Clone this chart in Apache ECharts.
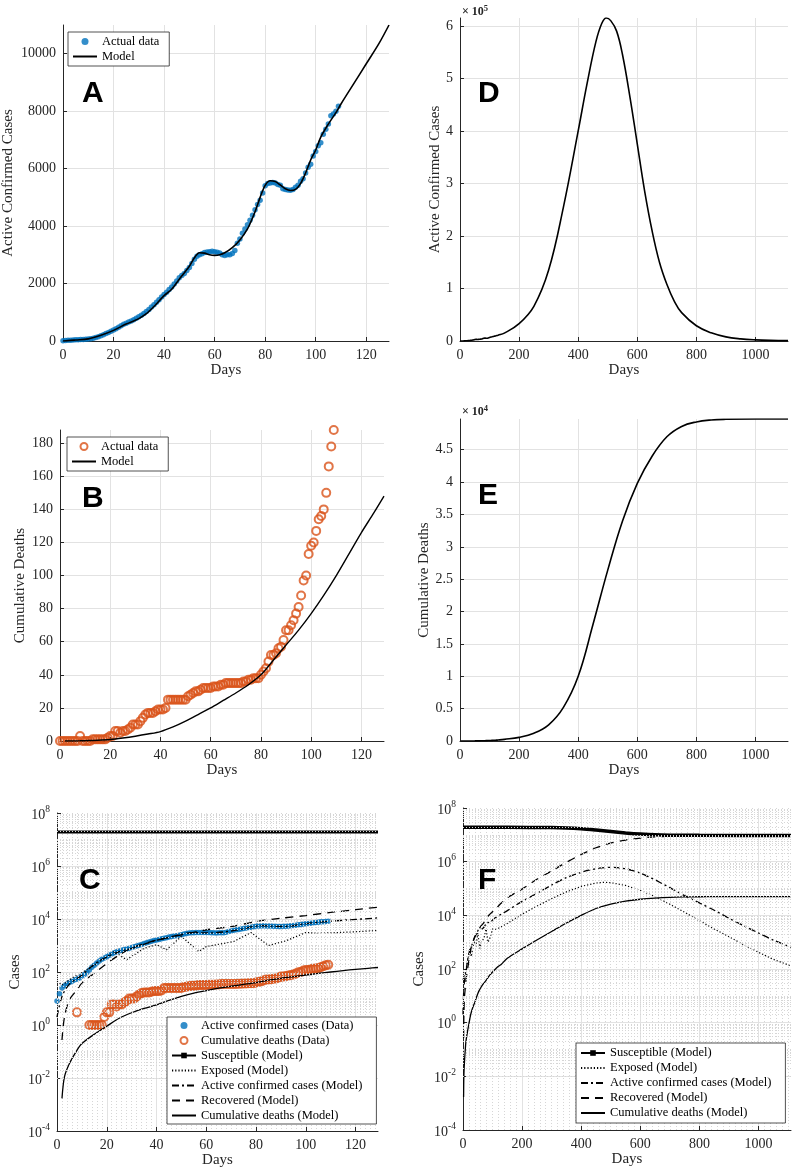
<!DOCTYPE html>
<html><head><meta charset="utf-8">
<script src="https://cdn.jsdelivr.net/npm/echarts@6.0.0/dist/echarts.min.js"></script>
<style>html,body{margin:0;padding:0;background:#fff}#c{width:793px;height:1170px}</style>
</head><body><div id="c"></div>
<script>
// ---------- DATA ----------
// Observed active confirmed cases, days 0..109
const activeDataVals = [8, 15, 25, 30, 35, 40, 45, 50, 55, 60,
  70, 80, 95, 120, 150, 180, 220, 260, 300, 340,
  380, 430, 480, 530, 580, 620, 660, 700, 740, 790,
  840, 900, 960, 1030, 1100, 1180, 1260, 1350, 1440, 1530,
  1620, 1700, 1790, 1880, 1980, 2090, 2200, 2280, 2350, 2450,
  2560, 2700, 2850, 2950, 3000, 3040, 3080, 3100, 3110, 3120,
  3110, 3090, 3060, 3000, 2980, 3000, 3000, 3050, 3150, 3400,
  3550, 3750, 3900, 4050, 4200, 4380, 4570, 4750, 4900, 5150,
  5400, 5480, 5500, 5520, 5500, 5450, 5420, 5300, 5270, 5260,
  5250, 5270, 5350, 5420, 5560, 5650, 5850, 6050, 6150, 6440,
  6600, 6800, 6900, 7200, 7370, 7550, 7840, 7900, 8000, 8170];
// Observed cumulative deaths, days 0..109
const deathsDataVals = [0, 0, 0, 0, 0, 0, 0, 0, 3, 0,
  0, 0, 0, 1, 1, 1, 1, 1, 1, 2,
  3, 3, 6, 6, 5, 6, 6, 7, 8, 10,
  10, 10, 12, 14, 16, 17, 17, 17, 18, 19,
  19, 19, 20, 25, 25, 25, 25, 25, 25, 25,
  25, 27, 28, 29, 30, 30, 31, 32, 32, 32,
  32, 33, 33, 33, 34, 34, 35, 35, 35, 35,
  35, 35, 35, 36, 36, 37, 37, 38, 38, 38,
  40, 42, 44, 48, 52, 52, 53, 56, 57, 61,
  67, 67, 70, 73, 77, 81, 88, 97, 100, 113,
  118, 120, 127, 134, 136, 140, 150, 166, 178, 188];

// Model, short range (days 0..129)
const activeModelDays = [0, 2, 5, 10, 15, 20, 25, 28, 30, 33, 36, 40, 43, 46, 50, 52, 54, 56, 58, 60, 62, 64, 67, 70, 73, 76, 78, 80, 82, 84, 86, 88, 90, 92, 94, 96, 98, 100, 102, 105, 108, 110, 115, 120, 125, 129];
const activeModelVals = [2, 12, 35, 75, 200, 370, 590, 700, 780, 950, 1200, 1580, 1800, 2150, 2600, 2900, 3070, 3060, 3000, 2980, 3000, 3070, 3250, 3520, 3900, 4500, 5000, 5420, 5580, 5550, 5430, 5300, 5240, 5280, 5480, 5850, 6300, 6650, 7100, 7550, 7950, 8250, 8950, 9650, 10350, 11000];
const exposedDays = [0, 2, 6, 10, 15, 20, 23, 28, 35, 40, 44, 50, 57, 60, 71, 78, 85, 92, 100, 105, 110, 120, 129];
const exposedVals = [44, 32, 59, 95, 180, 380, 590, 290, 790, 1070, 690, 2200, 590, 910, 1410, 3090, 1000, 1500, 3090, 2900, 3000, 3300, 3700];
const recoveredDays = [2, 3, 5, 8, 10, 15, 20, 25, 30, 40, 50, 60, 70, 80, 90, 100, 110, 120, 129];
const recoveredVals = [0.27, 2, 9, 21, 38, 90, 210, 440, 800, 1600, 2500, 3900, 5200, 8000, 10700, 13500, 17700, 22400, 28000];
const deathsModelDays = [2, 3, 5, 8, 10, 15, 20, 25, 30, 35, 40, 45, 50, 55, 60, 65, 70, 75, 80, 85, 90, 95, 100, 105, 110, 115, 120, 125, 129];
const deathsModelVals = [0.0017, 0.011, 0.035, 0.11, 0.2, 0.45, 0.9, 1.8, 2.9, 4.2, 5.7, 8.5, 12, 16, 20, 24.5, 29, 34, 40, 49, 58, 67, 77, 88, 100, 113, 126, 138, 148];
const susceptibleDays = [0, 129];
const susceptibleVals = [1.9e7, 1.9e7];

// Model, long range (days 150..1110)
const activeLongDays = [150, 200, 250, 300, 350, 400, 430, 460, 480, 495, 510, 530, 550, 575, 600, 625, 650, 675, 700, 725, 750, 800, 850, 900, 950, 1000, 1050, 1110];
const activeLongVals = [15000, 33000, 66000, 135000, 255000, 400000, 490000, 570000, 605000, 615000, 610000, 590000, 545000, 465000, 375000, 285000, 210000, 150000, 108000, 76000, 54000, 29000, 15500, 7800, 4100, 2200, 1200, 650];
const exposedLongDays = [150, 200, 250, 300, 350, 400, 450, 475, 500, 550, 600, 650, 700, 750, 800, 850, 900, 950, 1000, 1050, 1110];
const exposedLongVals = [5000, 11000, 22000, 42000, 75000, 120000, 160000, 170000, 165000, 130000, 85000, 50000, 26000, 13000, 6300, 3100, 1600, 800, 420, 230, 130];
const recoveredLongDays = [150, 200, 250, 300, 350, 400, 450, 500, 550, 600, 650, 700, 750, 800, 900, 1110];
const recoveredLongVals = [45000, 95000, 220000, 450000, 950000, 1850000, 3300000, 4900000, 6400000, 7600000, 8400000, 8900000, 9200000, 9330000, 9420000, 9450000];
const deathsLongDays = [150, 200, 250, 300, 350, 400, 450, 500, 550, 600, 650, 700, 750, 800, 850, 900, 1000, 1110];
const deathsLongVals = [250, 560, 1200, 2500, 5200, 10000, 18000, 26400, 34000, 39800, 44000, 47000, 48600, 49300, 49600, 49700, 49750, 49750];
const susceptibleLongDays = [150, 300, 350, 400, 450, 500, 550, 600, 650, 700, 800, 1110];
const susceptibleLongVals = [1.9e7, 1.86e7, 1.8e7, 1.67e7, 1.5e7, 1.33e7, 1.18e7, 1.07e7, 1.0e7, 9.75e6, 9.55e6, 9.5e6];

// Axis ranges / ticks
const shortDaysMax = 129, longDaysMax = 1110;
const shortDaysTick = 20, longDaysTick = 200;
const aMax = 11000, aTick = 2000;
const bMax = 188, bTick = 20;
const dMax = 615000, dTick = 100000;
const eMax = 49750, eTick = 5000;
const logMin = 1e-4, logMax = 1e8, logTickDecades = 2;

// ---------- HELPERS ----------
const SERIF = 'Liberation Serif', SANS = 'Liberation Sans';
const INK = '#262626', GRID = '#e2e2e2', MINOR = '#d6d6d6';
const BLUE = '#0072BD', ORANGE = '#D95319';
const pairs = (days, vals) => days.map((d, i) => [d, vals[i]]);
const dataDays = activeDataVals.map((_, i) => i);
const plain = v => String(v);

function xAx(grid, max, interval, minor) {
  return {
    gridIndex: grid, type: 'value', min: 0, max: max, interval: interval,
    name: 'Days', nameLocation: 'middle', nameGap: 22,
    nameTextStyle: {fontFamily: SERIF, fontSize: 15, color: INK},
    axisLine: {show: true, onZero: false, lineStyle: {color: INK, width: 1}},
    axisTick: {show: true, inside: true, length: 4, lineStyle: {color: INK}},
    axisLabel: {margin: 7, fontFamily: SERIF, fontSize: 14, color: INK, showMaxLabel: false, formatter: plain},
    splitLine: {show: true, showMinLine: false, showMaxLine: false, lineStyle: {color: GRID, width: 1}},
    minorTick: {show: false, splitNumber: 10},
    minorSplitLine: {show: !!minor, lineStyle: {color: MINOR, type: [1, 2], width: 1}}
  };
}
function yAx(grid, name, gap, max, interval, fmt) {
  return {
    gridIndex: grid, type: 'value', min: 0, max: max, interval: interval,
    name: name, nameLocation: 'middle', nameGap: gap,
    nameTextStyle: {fontFamily: SERIF, fontSize: 15, color: INK},
    axisLine: {show: true, onZero: false, lineStyle: {color: INK, width: 1}},
    axisTick: {show: true, inside: true, length: 4, lineStyle: {color: INK}},
    axisLabel: {margin: 7, fontFamily: SERIF, fontSize: 14, color: INK, showMaxLabel: false, formatter: fmt || plain},
    splitLine: {show: true, showMinLine: false, showMaxLine: false, lineStyle: {color: GRID, width: 1}}
  };
}
function yLog(grid, gap) {
  return {
    gridIndex: grid, type: 'log', logBase: 10, min: logMin, max: logMax, interval: logTickDecades,
    name: 'Cases', nameLocation: 'middle', nameGap: gap,
    nameTextStyle: {fontFamily: SERIF, fontSize: 15, color: INK},
    axisLine: {show: true, onZero: false, lineStyle: {color: INK, width: 1}},
    axisTick: {show: true, inside: true, length: 4, lineStyle: {color: INK}},
    axisLabel: {margin: 7, color: INK,
      formatter: v => '{b|10}{e|' + Math.round(Math.log10(v)) + '}',
      rich: {b: {fontFamily: SERIF, fontSize: 14, color: INK, lineHeight: 18, verticalAlign: 'bottom'},
             e: {fontFamily: SERIF, fontSize: 9.5, color: INK, lineHeight: 10, verticalAlign: 'top'}}},
    splitLine: {show: true, showMinLine: false, showMaxLine: false, lineStyle: {color: GRID, width: 1}}
  };
}
function minorLogLines() {
  const out = [];
  for (let k = Math.log10(logMin); k < Math.log10(logMax); k++) {
    for (let n = 1; n <= 9; n++) {
      if (n === 1 && k % logTickDecades === 0) continue;
      out.push({yAxis: n * Math.pow(10, k)});
    }
  }
  return out;
}
function gridSeries(idx) {
  return {name: 'grid' + idx, type: 'line', xAxisIndex: idx, yAxisIndex: idx, data: [], z: 1, silent: true,
    markLine: {silent: true, symbol: ['none', 'none'], label: {show: false}, animation: false,
      lineStyle: {color: MINOR, type: [1, 2], width: 1}, emphasis: {disabled: true}, data: minorLogLines()}};
}
function lineS(name, idx, data, style, extra) {
  return Object.assign({name: name, type: 'line', xAxisIndex: idx, yAxisIndex: idx, data: data,
    symbol: 'none', lineStyle: Object.assign({color: '#000', width: 1.4}, style), itemStyle: {color: '#000'},
    z: 3}, extra || {});
}
const blueScatter = (name, idx, data) => ({name: name, type: 'scatter', xAxisIndex: idx, yAxisIndex: idx, data: data,
  symbol: 'circle', symbolSize: 5.5, itemStyle: {color: BLUE}, z: 2});
const orangeScatter = (name, idx, data) => ({name: name, type: 'scatter', xAxisIndex: idx, yAxisIndex: idx, data: data,
  symbol: 'circle', symbolSize: 8, itemStyle: {color: 'rgba(0,0,0,0)', borderColor: ORANGE, borderWidth: 2}, z: 2});

const DOT = [1.2, 2], DASHDOT = [7, 3, 2, 3], DASH = [8, 6];
const noSym = {opacity: 0};

function legend(left, top, items, padding) {
  return {left: left, top: top, orient: 'vertical', selectedMode: false, z: 50, zlevel: 1,
    itemWidth: 24, itemHeight: 7, itemGap: 0, padding: padding,
    borderColor: INK, borderWidth: 0.8, backgroundColor: '#ffffff',
    textStyle: {fontFamily: SERIF, fontSize: 12.5, color: '#000', lineHeight: 15},
    formatter: n => n.slice(2), data: items};
}
const letter = (t, left, top) => ({text: t, left: left, top: top, padding: 0, z: 60, zlevel: 1,
  textStyle: {fontFamily: SANS, fontWeight: 'bold', fontSize: 30, color: '#000'}});
const expo = (e, left, top) => ({text: '{b|\u00d7 10}{e|' + e + '}', left: left, top: top, padding: 0,
  textStyle: {rich: {b: {fontFamily: SERIF, fontSize: 12, color: INK, lineHeight: 14, verticalAlign: 'bottom'},
                     e: {fontFamily: SERIF, fontSize: 8.5, color: INK, lineHeight: 9, verticalAlign: 'top'}}}});

const deathsLogData = pairs(dataDays, deathsDataVals.map(v => v > 0 ? v : null));

const option = {
  animation: false,
  backgroundColor: '#fff',
  textStyle: {fontFamily: SERIF},
  title: [letter('A', 82, 79), letter('B', 82, 484), letter('C', 79, 866),
          letter('D', 478, 79), letter('E', 478, 481), letter('F', 478, 866),
          expo(5, 462, 4), expo(4, 462, 404)],
  grid: [
    {left: 61, top: 25, width: 328, height: 316},
    {left: 60, top: 430, width: 324, height: 311},
    {left: 57, top: 813, width: 321, height: 318},
    {left: 460, top: 18, width: 328, height: 323},
    {left: 460, top: 419, width: 328, height: 322},
    {left: 463, top: 808, width: 328, height: 322}
  ],
  xAxis: [xAx(0, shortDaysMax, shortDaysTick), xAx(1, shortDaysMax, shortDaysTick), xAx(2, shortDaysMax, shortDaysTick, true),
          xAx(3, longDaysMax, longDaysTick), xAx(4, longDaysMax, longDaysTick), xAx(5, longDaysMax, longDaysTick, true)],
  yAxis: [yAx(0, 'Active Confirmed Cases', 47, aMax, aTick),
          yAx(1, 'Cumulative Deaths', 32, bMax, bTick),
          yLog(2, 34),
          yAx(3, 'Active Confirmed Cases', 17, dMax, dTick, v => String(v / 1e5)),
          yAx(4, 'Cumulative Deaths', 27, eMax, eTick, v => String(v / 1e4)),
          yLog(5, 36)],
  legend: [
    legend(68, 32, [{name: 'A:Actual data'}, {name: 'A:Model', itemStyle: noSym}], [2, 10, 2, 4]),
    legend(67, 437, [{name: 'B:Actual data'}, {name: 'B:Model', itemStyle: noSym}], [2, 10, 2, 4]),
    legend(167, 1017, [{name: 'C:Active confirmed cases (Data)'}, {name: 'C:Cumulative deaths (Data)'},
      {name: 'C:Susceptible (Model)'}, {name: 'C:Exposed (Model)', itemStyle: noSym},
      {name: 'C:Active confirmed cases (Model)', itemStyle: noSym}, {name: 'C:Recovered (Model)', itemStyle: noSym},
      {name: 'C:Cumulative deaths (Model)', itemStyle: noSym}], [1, 14, 1, 4]),
    legend(576, 1043, [{name: 'F:Susceptible (Model)'}, {name: 'F:Exposed (Model)', itemStyle: noSym},
      {name: 'F:Active confirmed cases (Model)', itemStyle: noSym}, {name: 'F:Recovered (Model)', itemStyle: noSym},
      {name: 'F:Cumulative deaths (Model)', itemStyle: noSym}], [2.5, 14, 2.5, 4])
  ],
  series: [
    // A
    blueScatter('A:Actual data', 0, pairs(dataDays, activeDataVals)),
    lineS('A:Model', 0, pairs(activeModelDays, activeModelVals), {width: 1.6}, {smooth: 0.3}),
    // B
    orangeScatter('B:Actual data', 1, pairs(dataDays, deathsDataVals)),
    lineS('B:Model', 1, pairs(deathsModelDays, deathsModelVals), {width: 1.4}, {smooth: 0.3}),
    // C
    gridSeries(2),
    blueScatter('C:Active confirmed cases (Data)', 2, pairs(dataDays, activeDataVals)),
    orangeScatter('C:Cumulative deaths (Data)', 2, deathsLogData),
    lineS('C:Susceptible (Model)', 2, pairs(susceptibleDays, susceptibleVals), {width: 3},
      {symbol: 'rect', symbolSize: 4, showSymbol: false}),
    lineS('C:Exposed (Model)', 2, pairs(exposedDays, exposedVals), {type: DOT, width: 1.2}),
    lineS('C:Active confirmed cases (Model)', 2, pairs(activeModelDays, activeModelVals), {type: DASHDOT, width: 1.3}, {smooth: 0.3}),
    lineS('C:Recovered (Model)', 2, pairs(recoveredDays, recoveredVals), {type: DASH, width: 1.3}, {smooth: 0.3}),
    lineS('C:Cumulative deaths (Model)', 2, pairs(deathsModelDays, deathsModelVals), {width: 1.3}, {smooth: 0.3}),
    // D
    lineS('D:Model', 3, pairs(activeModelDays.concat(activeLongDays), activeModelVals.concat(activeLongVals)), {width: 1.6}, {smooth: 0.4}),
    // E
    lineS('E:Model', 4, pairs(deathsModelDays.concat(deathsLongDays), deathsModelVals.concat(deathsLongVals)), {width: 1.6}, {smooth: 0.4}),
    // F
    gridSeries(5),
    lineS('F:Susceptible (Model)', 5, pairs(susceptibleDays.concat(susceptibleLongDays), susceptibleVals.concat(susceptibleLongVals)), {width: 3.5},
      {symbol: 'rect', symbolSize: 4, showSymbol: false, smooth: 0.3}),
    lineS('F:Exposed (Model)', 5, pairs(exposedDays.concat(exposedLongDays), exposedVals.concat(exposedLongVals)), {type: DOT, width: 1.2}),
    lineS('F:Active confirmed cases (Model)', 5, pairs(activeModelDays.concat(activeLongDays), activeModelVals.concat(activeLongVals)), {type: DASHDOT, width: 1.3}, {smooth: 0.3}),
    lineS('F:Recovered (Model)', 5, pairs(recoveredDays.concat(recoveredLongDays), recoveredVals.concat(recoveredLongVals)), {type: DASH, width: 1.3}, {smooth: 0.3}),
    lineS('F:Cumulative deaths (Model)', 5, pairs(deathsModelDays.concat(deathsLongDays), deathsModelVals.concat(deathsLongVals)), {width: 1.3}, {smooth: 0.3})
  ]
};
const chart = echarts.init(document.getElementById('c'), null, {renderer: 'canvas'});
chart.setOption(option);
</script></body></html>
